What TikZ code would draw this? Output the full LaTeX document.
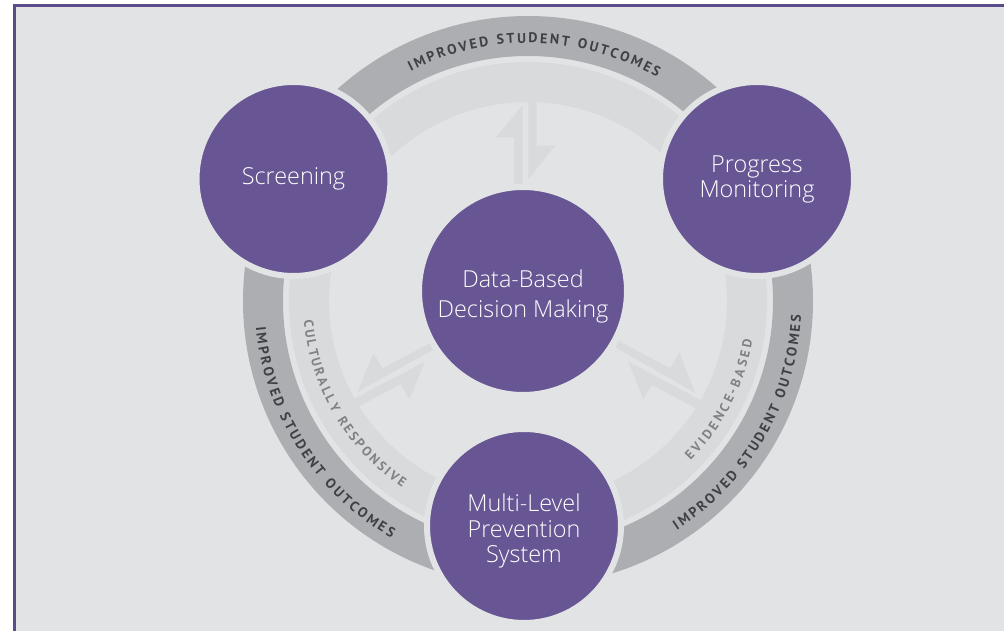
\documentclass[tikz,border=0pt]{standalone}
\usepackage{fontspec}
\usetikzlibrary{decorations.text}
\setmainfont{Open Sans}
\newfontfamily\lightf{Open Sans Light}
\newfontfamily\capsf{PT Sans}
\definecolor{pagebg}{HTML}{E1E3E5}
\definecolor{frameC}{HTML}{5B4B8A}
\definecolor{purpleC}{HTML}{675693}
\definecolor{outerC}{HTML}{ADAEB1}
\definecolor{innerC}{HTML}{D9DADC}
\definecolor{outerT}{HTML}{3F4044}
\definecolor{innerT}{HTML}{808185}
\newcommand\outerfont{\capsf\bfseries\fontsize{14}{14}\selectfont\color{outerT}}
\newcommand\innerfont{\capsf\bfseries\fontsize{13.2}{13.2}\selectfont\color{innerT}}
\tikzset{
  x=1pt,y=1pt,
  bubble/.style={circle,fill=purpleC,draw=pagebg,line width=6pt,outer sep=0pt,inner sep=0pt,
    text=white,align=center},
  bubbletext/.style={text=white,align=center,inner sep=0pt,font=\lightf\fontsize{23.4}{25.5}\selectfont},
  ringband/.style={line width=40pt,draw},
  arrowpart/.style={fill=innerC,draw=none},
  curved/.style={decorate,decoration={text along path,text={#1},text align={fit to path}}}
}
\begin{document}
\begin{tikzpicture}[x=1pt,y=1pt]
\useasboundingbox (0,0) rectangle (1004,631);
\fill[white] (0,0) rectangle (1004,631);
\fill[pagebg] (14,0) rectangle (1004,626);
\draw[frameC,line width=3pt] (14.5,0) -- (14.5,625.8) -- (1004,625.8);
\coordinate (ringc) at (528,330);
% bands
\draw[ringband,draw=outerC] (ringc) circle[radius=265];
\draw[ringband,draw=innerC] (ringc) circle[radius=219];
% arrows (y = 631 - Y)
\fill[arrowpart] (522.7,526) -- (496,493.7) -- (514,493.7) -- (514,446) -- (522.7,446) -- cycle;
\fill[arrowpart] (536.7,529) -- (536.7,485.3) -- (555,485.3) -- (528.3,451.7) -- (528.3,529) -- cycle;
\fill[arrowpart] (430,287.7) -- (432.7,281) -- (357.7,239.3) -- (373.3,277.7) -- (382.7,262.7) -- cycle;
\fill[arrowpart] (425,269.3) -- (409.3,231.7) -- (400.7,247) -- (358.3,224.3) -- (354,232) -- cycle;
\fill[arrowpart] (618.3,290.3) -- (670,262.7) -- (679.3,278.3) -- (695,238.3) -- (616,283.3) -- cycle;
\fill[arrowpart] (628.3,269.3) -- (701.7,230.3) -- (696,222.7) -- (651.7,246) -- (643.3,231.7) -- cycle;
% curved labels
\path[curved={|\outerfont|IMPROVED STUDENT OUTCOMES}] (ringc) ++(117:258) arc[start angle=117,end angle=60,radius=258];
\path[curved={|\outerfont|IMPROVED STUDENT OUTCOMES}] (ringc) ++(185.5:273.5) arc[start angle=185.5,end angle=240,radius=273.5];
\path[curved={|\outerfont|IMPROVED STUDENT OUTCOMES}] (ringc) ++(-57:273.5) arc[start angle=-57,end angle=-3,radius=273.5];
\path[curved={|\innerfont|CULTURALLY RESPONSIVE}] (ringc) ++(185:225) arc[start angle=185,end angle=236,radius=225];
\path[curved={|\innerfont|EVIDENCE-BASED}] (ringc) ++(-44.5:228) arc[start angle=-44.5,end angle=-10,radius=228];
% circles
\node[bubble,minimum size=194pt] (screen) at (293.5,452) {};
\node[bubble,minimum size=194pt] (progress) at (757,452) {};
\node[bubble,minimum size=194pt] (multi) at (524,105) {};
\node[bubble,minimum size=208pt] (data) at (523,340) {};
\node[bubbletext] (screenT) at (293.5,452) {Screening};
\node[bubbletext] (progressT) at (757,451.5) {Progress\\Monitoring};
\node[bubbletext] (multiT) at (524,100) {Multi-Level\\Prevention\\System};
\node[bubbletext,font=\lightf\fontsize{23.4}{30}\selectfont] (dataT) at (523,335) {Data-Based\\Decision Making};
\end{tikzpicture}
\end{document}
